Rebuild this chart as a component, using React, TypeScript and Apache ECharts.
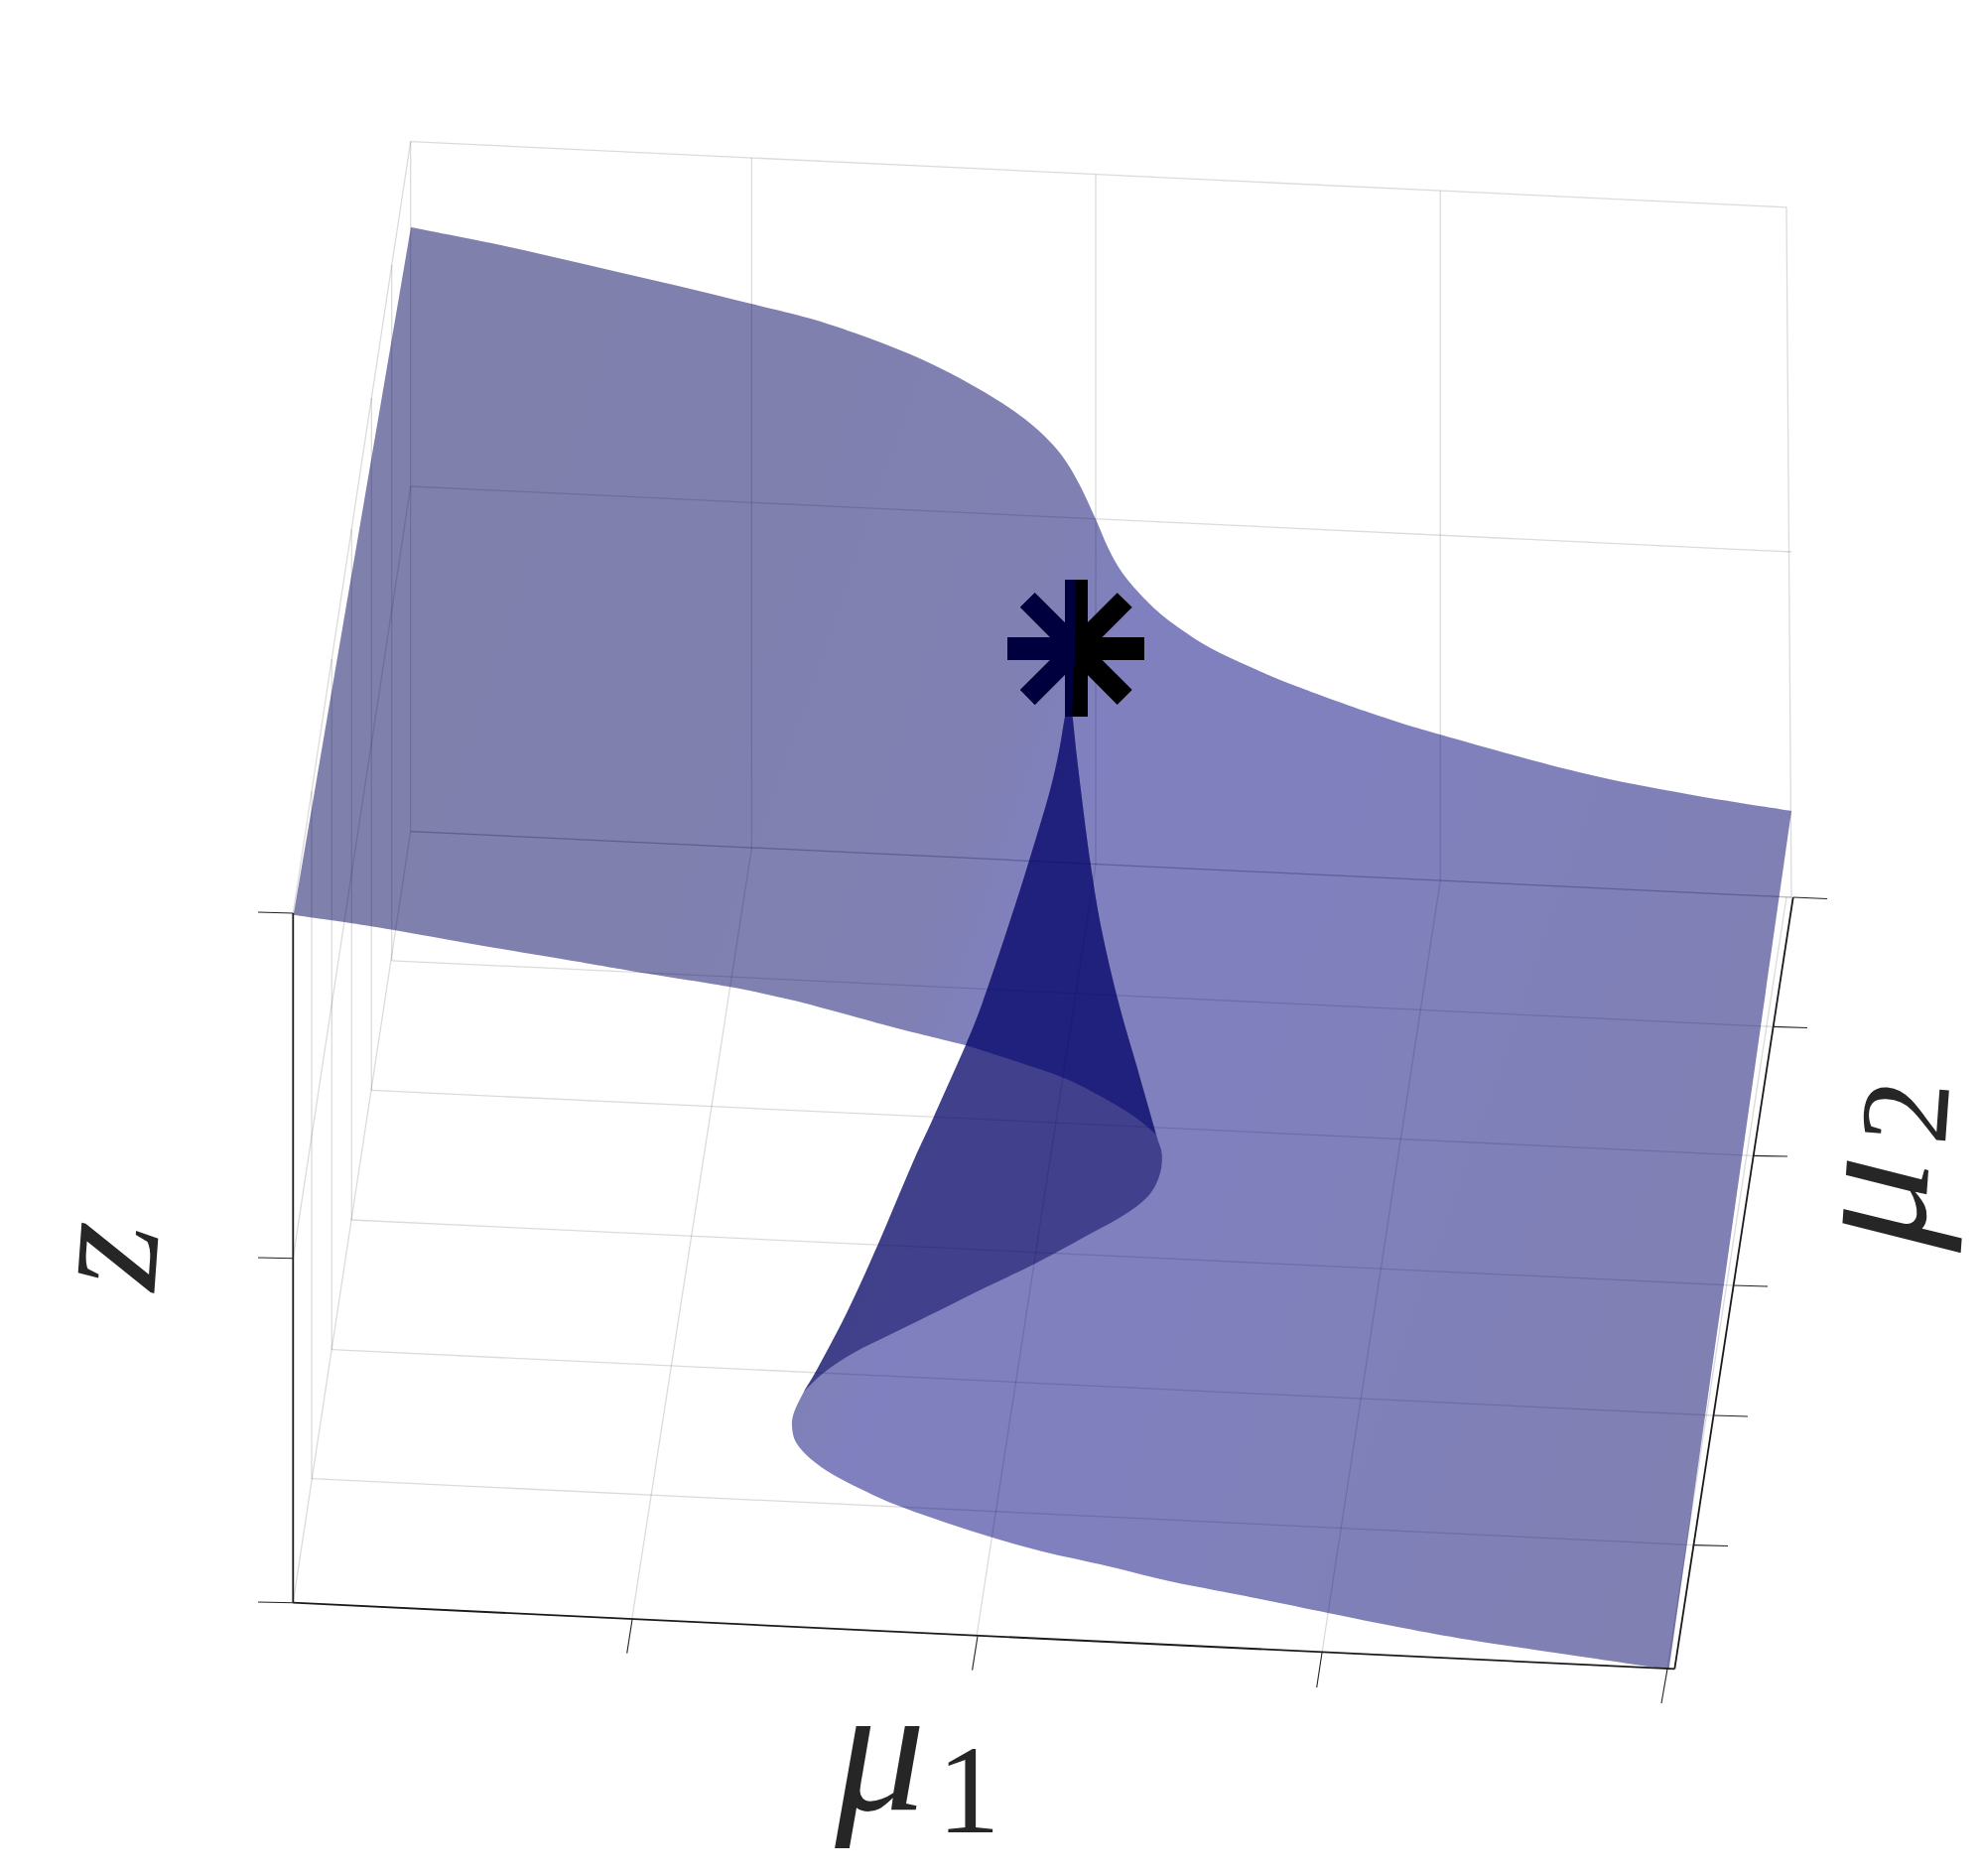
import React, { useEffect, useRef } from "react";
import * as echarts from "echarts";

type Pt = number[];

// Surface outlines (x, y in picture units)
const backEdge: Pt[] = [[414,229],[500,246],[584,265],[670,285],[757,306],[815,320.5],[860,335],[900,350],[933,364],[967,381],[1000,400],[1027,418],[1050,437],[1070,459],[1087,487],[1104,523],[1117,553],[1133,580],[1160,610],[1187,632],[1220,653],[1260,672],[1300,689],[1380,718],[1451,740],[1591,778],[1700,800],[1805,817]];
const sheetCorner: Pt = [1681.7,1682];
const lowerEdge: Pt[] = [[1580,1667],[1480,1652],[1413,1640],[1338,1625],[1250,1607],[1183,1594],[1117,1578],[1050,1563],[1000,1549],[950,1533],[900,1515],[867,1500],[840,1486],[817,1470],[802,1453],[798,1437],[800,1423]];
const lowerFold: Pt[] = [[810,1402],[823,1380],[853,1323],[885,1253],[919,1173],[941,1125],[973,1053]];
const upperFold: Pt[] = [[990,1010],[1017,930],[1037,867],[1057,800],[1067,757],[1073,722],[1078,700]];
const rightFold: Pt[] = [[1080.7,722],[1086.7,777],[1098.3,867],[1110,937],[1127,1010],[1145,1073],[1165,1143]];
const frontLobe: Pt[] = [[1170.7,1163],[1168,1185],[1156,1206],[1131,1225],[1093,1246],[1043,1273],[993,1297],[947,1320],[900,1343],[860,1363],[830,1383],[810,1402]];
const frontInner: Pt[] = [[1143,1125],[1110,1105],[1072,1086],[1023,1069],[973,1053]];
const frontUpper: Pt[] = [[910,1037.5],[860,1024],[810,1010.5],[780,1003.5],[737,994.5],[647,980],[580,968.5],[480,951.7],[397,937],[347,929],[295.7,921.7]];

const apex = upperFold[upperFold.length - 1];
const foldJoin = lowerFold[lowerFold.length - 1];
const lobeTop = rightFold[rightFold.length - 1];

// Each outline is a list of runs; a run is one smooth stroke, runs meet at corners
const sheetOutline: Pt[][] = [
  backEdge,
  [backEdge[backEdge.length - 1], sheetCorner],
  [sheetCorner, ...lowerEdge, ...lowerFold],
  [foldJoin, ...frontUpper],
];
const foldOutline: Pt[][] = [
  [apex, ...rightFold, ...frontLobe],
  [...lowerFold, ...upperFold],
];
const coreOutline: Pt[][] = [
  [apex, ...rightFold],
  [lobeTop, ...frontInner],
  [foldJoin, ...upperFold],
];

// Light grey box lines: x1, y1, x2, y2
const backWallLines: number[][] = [
  [413.7,142.6,1800,208.8],[413.7,490,1805,556],[413.7,837.6,1805,904],
  [413.7,142.6,413.7,837.6],[757.4,159,757.4,854.2],[1104,175.7,1104,870.7],[1451.2,192.2,1451.2,887.3],[1800,208.8,1805,904],
];
const leftWallLines: number[][] = [
  [295.3,920,413.7,142.6],[295.3,1267.7,413.7,490],[295.3,1614.7,413.7,837.6],
  [314,797,314,1489.7],[334.3,664,334.3,1359.6],[354.3,533,354.3,1229],[374.3,401,374.3,1098.4],[394.7,267,394.7,967.8],
];
const floorLines: number[][] = [
  [413.7,837.6,1805,904],
  [314,1489.7,1706.7,1556.6],[334.3,1359.6,1726.7,1426],[354.3,1229,1746.7,1295],[374.3,1098.4,1766.7,1164.4],[394.7,967.8,1786.7,1034.4],
  [636.7,1631.5,757.4,854.2],[984,1648.5,1104,870.7],[1332,1665,1451.2,887.3],[1680,1681.4,1800,904],
];

// Dark axis lines and ticks
const axisLines: number[][] = [
  [295.3,920,295.3,1614.7],[295.3,1614.7,1687.3,1681.4],[1687.3,1681.4,1806.7,904],
];
const tickLines: number[][] = [
  [295.3,920,260,919],[295.3,1267.7,260,1267],[295.3,1614.7,260,1614],
  [637,1631.5,631.7,1665.7],[985,1648.5,979.6,1682.7],[1332,1665,1326.7,1700],[1680,1681.4,1674,1716],
  [1806.7,904,1841,905.5],[1786.7,1034.4,1821,1035.5],[1766.7,1164.4,1801,1165],[1746.7,1295,1781,1296],[1726.7,1426,1761,1427],[1706.7,1556.6,1741,1557.5],
];

// Star marker
const starArms: Pt[][] = [
  [[1015,642],[1153,642],[1153,665],[1015,665]],
  [[1073,584],[1096,584],[1096,722],[1073,722]],
  [[1042.7,597.3],[1140.7,695],[1125.7,710],[1028,611.7]],
  [[1125.7,597.3],[1140.7,611.7],[1042.7,710],[1028,695]],
];
const starShaded: Pt[][] = [
  [[1015,642],[1083,642],[1083,665],[1015,665]],
  [[1073,584],[1084,584],[1083,643],[1080,722],[1073,722]],
  [[1042.7,597.3],[1083,637.6],[1083,666.7],[1028,611.7]],
  [[1042.7,710],[1083,669.7],[1083,640.6],[1028,695]],
];

const sheetFill = new echarts.graphic.LinearGradient(344, 388, 1950, 944, [
  { offset: 0, color: "rgba(0,0,89,0.5)" },
  { offset: 0.3, color: "rgba(0,0,97,0.5)" },
  { offset: 0.43, color: "rgba(0,0,103,0.5)" },
  { offset: 0.49, color: "rgba(0,0,129,0.5)" },
  { offset: 0.65, color: "rgba(0,0,125,0.5)" },
  { offset: 1, color: "rgba(0,0,101,0.5)" },
], true);

function smoothOutline(runs: Pt[][], toPixel: (p: Pt) => number[]): string {
  let d = "";
  const f = (v: number) => v.toFixed(2);
  runs.forEach((run, r) => {
    const pts = run.map(toPixel);
    d += r === 0 ? `M${f(pts[0][0])} ${f(pts[0][1])}` : `L${f(pts[0][0])} ${f(pts[0][1])}`;
    for (let i = 0; i < pts.length - 1; i++) {
      const p0 = pts[Math.max(i - 1, 0)];
      const p1 = pts[i];
      const p2 = pts[i + 1];
      const p3 = pts[Math.min(i + 2, pts.length - 1)];
      d += `C${f(p1[0] + (p2[0] - p0[0]) / 6)} ${f(p1[1] + (p2[1] - p0[1]) / 6)} ${f(p2[0] - (p3[0] - p1[0]) / 6)} ${f(p2[1] - (p3[1] - p1[1]) / 6)} ${f(p2[0])} ${f(p2[1])}`;
    }
  });
  return d + "Z";
}

function outlineSeries(name: string, outlines: Pt[][][], fills: any[], z: number) {
  return {
    type: "custom",
    name,
    z,
    silent: true,
    clip: false,
    coordinateSystem: "cartesian2d",
    data: outlines.map((o) => [o[0][0][0], o[0][0][1]]),
    renderItem: (params: any, api: any) => ({
      type: "path",
      shape: { pathData: smoothOutline(outlines[params.dataIndex], (p) => api.coord(p)) },
      style: { fill: fills[params.dataIndex], stroke: "none" },
    }),
  };
}

function polygonSeries(name: string, polys: Pt[][], fill: string, z: number) {
  return {
    type: "custom",
    name,
    z,
    silent: true,
    clip: false,
    coordinateSystem: "cartesian2d",
    data: polys.map((p) => [p[0][0], p[0][1]]),
    renderItem: (params: any, api: any) => ({
      type: "polygon",
      shape: { points: polys[params.dataIndex].map((p) => api.coord(p)) },
      style: { fill, stroke: "none" },
    }),
  };
}

function segmentSeries(name: string, segs: number[][], color: string, width: number, z: number) {
  return {
    type: "custom",
    name,
    z,
    silent: true,
    clip: false,
    coordinateSystem: "cartesian2d",
    data: segs,
    renderItem: (params: any, api: any) => {
      const a = api.coord([api.value(0), api.value(1)]);
      const b = api.coord([api.value(2), api.value(3)]);
      return {
        type: "line",
        shape: { x1: a[0], y1: a[1], x2: b[0], y2: b[1] },
        style: { stroke: color, lineWidth: width, fill: "none" },
      };
    },
  };
}

const gridColor = "rgba(0,0,0,0.14)";
const inkColor = "#262626";
const mathFont = '"Liberation Serif", serif';

export default function App() {
  const ref = useRef<HTMLDivElement>(null);
  useEffect(() => {
    const chart = echarts.init(ref.current!, undefined, { renderer: "svg" });
    chart.setOption({
      animation: false,
      backgroundColor: "#ffffff",
      grid: { left: 0, right: 0, top: 0, bottom: 0 },
      xAxis: { type: "value", min: 0, max: 1996, show: false },
      yAxis: { type: "value", min: 0, max: 1890, inverse: true, show: false },
      series: [
        segmentSeries("back wall", backWallLines, gridColor, 1.3, 1),
        segmentSeries("left wall", leftWallLines, gridColor, 1.3, 1),
        segmentSeries("floor", floorLines, gridColor, 1.3, 1),
        outlineSeries("surface", [sheetOutline, foldOutline, coreOutline], [sheetFill, "rgba(0,0,90,0.5)", "rgba(0,0,109,0.5)"], 2),
        segmentSeries("axes", axisLines, "#1a1a1a", 1.8, 3),
        segmentSeries("ticks", tickLines, "#222222", 1.1, 3),
        polygonSeries("marker", starArms, "#000000", 5),
        polygonSeries("marker shaded", starShaded, "#00003f", 6),
      ],
      graphic: [
        { type: "text", x: 887, y: 1761, z: 10, style: { text: "μ", font: `italic 182px ${mathFont}`, fill: inkColor, textAlign: "center", textVerticalAlign: "middle" } },
        { type: "text", x: 976, y: 1803, z: 10, style: { text: "1", font: `127px ${mathFont}`, fill: inkColor, textAlign: "center", textVerticalAlign: "middle" } },
        { type: "text", x: 1880, y: 1210, z: 10, rotation: 1.5, style: { text: "μ", font: `italic 180px ${mathFont}`, fill: inkColor, textAlign: "center", textVerticalAlign: "middle" } },
        { type: "text", x: 1919, y: 1120, z: 10, rotation: 1.5, style: { text: "2", font: `127px ${mathFont}`, fill: inkColor, textAlign: "center", textVerticalAlign: "middle" } },
        { type: "text", x: 101, y: 1264, z: 10, rotation: 1.5, style: { text: "z", font: `italic 170px ${mathFont}`, fill: inkColor, textAlign: "center", textVerticalAlign: "middle" } },
      ],
    });
    return () => chart.dispose();
  }, []);
  return <div ref={ref} style={{ position: "absolute", left: 0, top: 0, width: 1996, height: 1890 }} />;
}
